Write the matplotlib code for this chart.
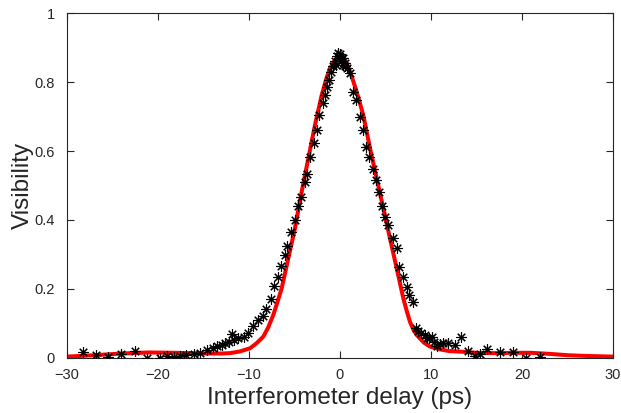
import numpy as np
import matplotlib.pyplot as plt

# measured points (delay in ps, visibility)
delay = [-28.3, -26.8, -25.5, -24.1, -22.5, -21.2, -19.8, -19.0, -18.3, -17.6,
         -16.9, -16.1, -15.4, -14.65, -14.0, -13.5, -13.0, -12.6, -12.2, -11.9,
         -11.6, -11.2, -10.6, -10.1, -9.6, -9.0, -8.45, -8.1, -7.6, -7.2,
         -6.85, -6.45, -6.1, -5.8, -5.35, -4.95, -4.6, -4.32, -3.85, -3.6,
         -3.3, -2.88, -2.5, -2.27, -1.9, -1.65, -1.47, -1.25, -1.03, -0.74,
         -0.55, -0.4, -0.3, -0.19, -0.1, 0.0, 0.1, 0.19, 0.3, 0.37,
         0.55, 0.6, 0.73, 1.1, 1.39, 1.76, 2.2, 2.49, 2.86, 3.22,
         3.59, 3.96, 4.32, 4.58, 4.95, 5.31, 5.79, 6.23, 6.52, 6.96,
         7.33, 7.63, 7.99, 8.35, 8.61, 8.9, 9.34, 9.55, 9.81, 10.07,
         10.33, 10.7, 11.0, 11.35, 11.9, 12.64, 13.26, 14.1, 14.84, 15.38,
         16.19, 17.58, 19.05, 20.44, 21.98]
visibility = [0.018, 0.009, 0.004, 0.012, 0.021, 0.000, 0.000, 0.005, 0.003, 0.005,
              0.010, 0.012, 0.014, 0.022, 0.030, 0.034, 0.038, 0.042, 0.045, 0.070,
              0.052, 0.057, 0.062, 0.072, 0.092, 0.110, 0.122, 0.142, 0.170, 0.210,
              0.236, 0.268, 0.298, 0.326, 0.364, 0.400, 0.442, 0.468, 0.511, 0.534,
              0.583, 0.622, 0.661, 0.704, 0.738, 0.762, 0.786, 0.806, 0.830, 0.845,
              0.862, 0.850, 0.876, 0.885, 0.870, 0.880, 0.860, 0.869, 0.870, 0.849,
              0.855, 0.845, 0.840, 0.825, 0.772, 0.748, 0.699, 0.661, 0.613, 0.583,
              0.549, 0.516, 0.482, 0.441, 0.410, 0.386, 0.349, 0.318, 0.265, 0.236,
              0.207, 0.183, 0.163, 0.086, 0.078, 0.073, 0.066, 0.057, 0.058, 0.060,
              0.045, 0.036, 0.040, 0.043, 0.044, 0.038, 0.062, 0.021, 0.006, 0.012,
              0.025, 0.018, 0.016, 0.000, 0.002]

# fitted curve
fit_delay = [-30, -27, -24, -21, -18, -15, -13, -12.1, -11.0, -9.9,
             -9.2, -8.43, -7.9, -7.33, -6.9, -6.41, -5.68, -4.95, -4.21, -3.48,
             -2.75, -2.01, -1.5, -1.1, -0.6, -0.19, 0.0, 0.25, 0.5, 0.8,
             1.1, 1.45, 1.83, 2.56, 3.3, 4.03, 4.76, 5.49, 6.23, 6.96,
             7.35, 7.69, 8.05, 8.43, 9.2, 9.89, 11, 12, 13.5, 15,
             17, 19, 21, 23, 25, 27, 30]
fit_vis = [0.004, 0.008, 0.013, 0.016, 0.015, 0.013, 0.013, 0.014, 0.019, 0.028,
           0.042, 0.062, 0.088, 0.125, 0.16, 0.202, 0.289, 0.376, 0.482, 0.579,
           0.675, 0.762, 0.810, 0.840, 0.862, 0.875, 0.878, 0.876, 0.866, 0.850,
           0.830, 0.803, 0.772, 0.704, 0.608, 0.521, 0.434, 0.347, 0.260, 0.173,
           0.135, 0.105, 0.083, 0.067, 0.045, 0.033, 0.025, 0.020, 0.018, 0.015,
           0.014, 0.015, 0.015, 0.012, 0.008, 0.006, 0.004]

plt.rcParams['font.family'] = ['Liberation Sans', 'DejaVu Sans']
axcol = '#262626'

fig = plt.figure(figsize=(6.21, 4.13), dpi=100)
ax = fig.add_axes([0.108, 0.1332, 0.879, 0.8353])

ax.plot(fit_delay, fit_vis, color='red', lw=2.9, zorder=2)
ax.plot(delay, visibility, ls='none', marker=(8, 2, 0), ms=7.5, mew=0.8,
        color='black', zorder=3)

ax.set_xlim(-30, 30)
ax.set_ylim(0, 1)
ax.set_xticks(np.arange(-30, 31, 10))
ax.set_yticks([0, 0.2, 0.4, 0.6, 0.8, 1])
ax.set_yticklabels(['0', '0.2', '0.4', '0.6', '0.8', '1'])
ax.tick_params(direction='in', top=True, right=True, length=5, width=0.8,
               labelsize=10.5, colors=axcol)
ax.tick_params(axis='x', pad=7)
ax.tick_params(axis='y', pad=9)
for s in ax.spines.values():
    s.set_color(axcol)
    s.set_linewidth(0.8)

ax.set_xlabel('Interferometer delay (ps)', fontsize=17.5, color=axcol, labelpad=4)
ax.set_ylabel('Visibility', fontsize=17.5, color=axcol, labelpad=0)

fig.savefig('out.png', dpi=100)
